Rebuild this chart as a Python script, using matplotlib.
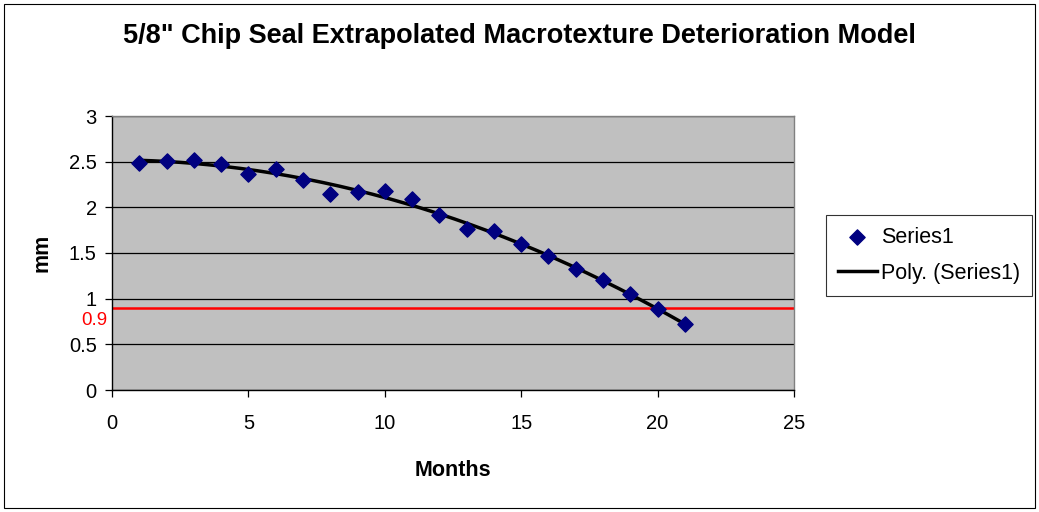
import matplotlib.pyplot as plt
import numpy as np
from matplotlib.patches import Rectangle

plt.rcParams["font.family"] = ["Liberation Sans", "DejaVu Sans"]

months = [1, 2, 3, 4, 5, 6, 7, 8, 9, 10, 11, 12, 13, 14, 15, 16, 17, 18, 19, 20, 21]
texture_mm = [2.49, 2.51, 2.52, 2.47, 2.37, 2.42, 2.30, 2.15, 2.17, 2.18, 2.09,
              1.92, 1.76, 1.74, 1.60, 1.47, 1.33, 1.20, 1.05, 0.89, 0.72]
threshold = 0.9
y_ticks = [0, 0.5, 1, 1.5, 2, 2.5, 3]
x_ticks = [0, 5, 10, 15, 20, 25]

fig = plt.figure(figsize=(10.39, 5.12), dpi=100)
fig.patch.set_facecolor("white")
fig.add_artist(Rectangle((0.004, 0.008), 0.992, 0.984, transform=fig.transFigure,
                         fill=False, edgecolor="black", linewidth=0.8))

ax = fig.add_axes([112 / 1039, 1 - 390 / 512, (794 - 112) / 1039, (390 - 116) / 512])
ax.set_facecolor("#C0C0C0")
ax.set_xlim(0, 25)
ax.set_ylim(0, 3)
ax.set_xticks(x_ticks)
ax.set_yticks(y_ticks)
ax.set_yticklabels([f"{v:g}" for v in y_ticks])
ax.grid(axis="y", color="black", linewidth=0.9)
ax.set_axisbelow(True)
ax.tick_params(labelsize=14.5, length=5, width=0.9, direction="out")
ax.tick_params(axis="x", pad=12)
ax.tick_params(axis="y", pad=6)
for side in ("left", "bottom"):
    ax.spines[side].set_color("black")
    ax.spines[side].set_linewidth(1.0)
for side in ("top", "right"):
    ax.spines[side].set_color("#808080")
    ax.spines[side].set_linewidth(1.0)

# second-order polynomial trend through the measurements
coef = np.polyfit(months, texture_mm, 2)
xs = np.linspace(months[0], months[-1], 200)
trend, = ax.plot(xs, np.polyval(coef, xs), color="black", linewidth=2.5, zorder=3,
                 label="Poly. (Series1)")
pts = ax.scatter(months, texture_mm, marker="D", s=60, color="#000080", zorder=4,
                 label="Series1")

# limit line, labelled just beneath it on the left
ax.axhline(threshold, color="red", linewidth=1.8, zorder=2)
ax.annotate(f"{threshold:g}", (0, threshold), xytext=(-3, -3), textcoords="offset points",
            color="red", fontsize=13.5, ha="right", va="top", annotation_clip=False)

ax.set_xlabel("Months", fontsize=15.5, fontweight="bold", labelpad=20)
ax.set_ylabel("mm", fontsize=15.5, fontweight="bold", labelpad=12)
fig.suptitle('5/8" Chip Seal Extrapolated Macrotexture Deterioration Model',
             x=0.5, y=0.955, fontsize=19.5, fontweight="bold")

leg = fig.legend(handles=[pts, trend], loc="upper left",
                 bbox_to_anchor=(826 / 1039, 1 - 215 / 512), fontsize=15.5,
                 frameon=True, fancybox=False, edgecolor="black", handlelength=1.8,
                 handletextpad=0.2, borderpad=0.55, labelspacing=0.7,
                 borderaxespad=0.0)
leg.get_frame().set_linewidth(0.8)

fig.savefig("out.png", dpi=100)
